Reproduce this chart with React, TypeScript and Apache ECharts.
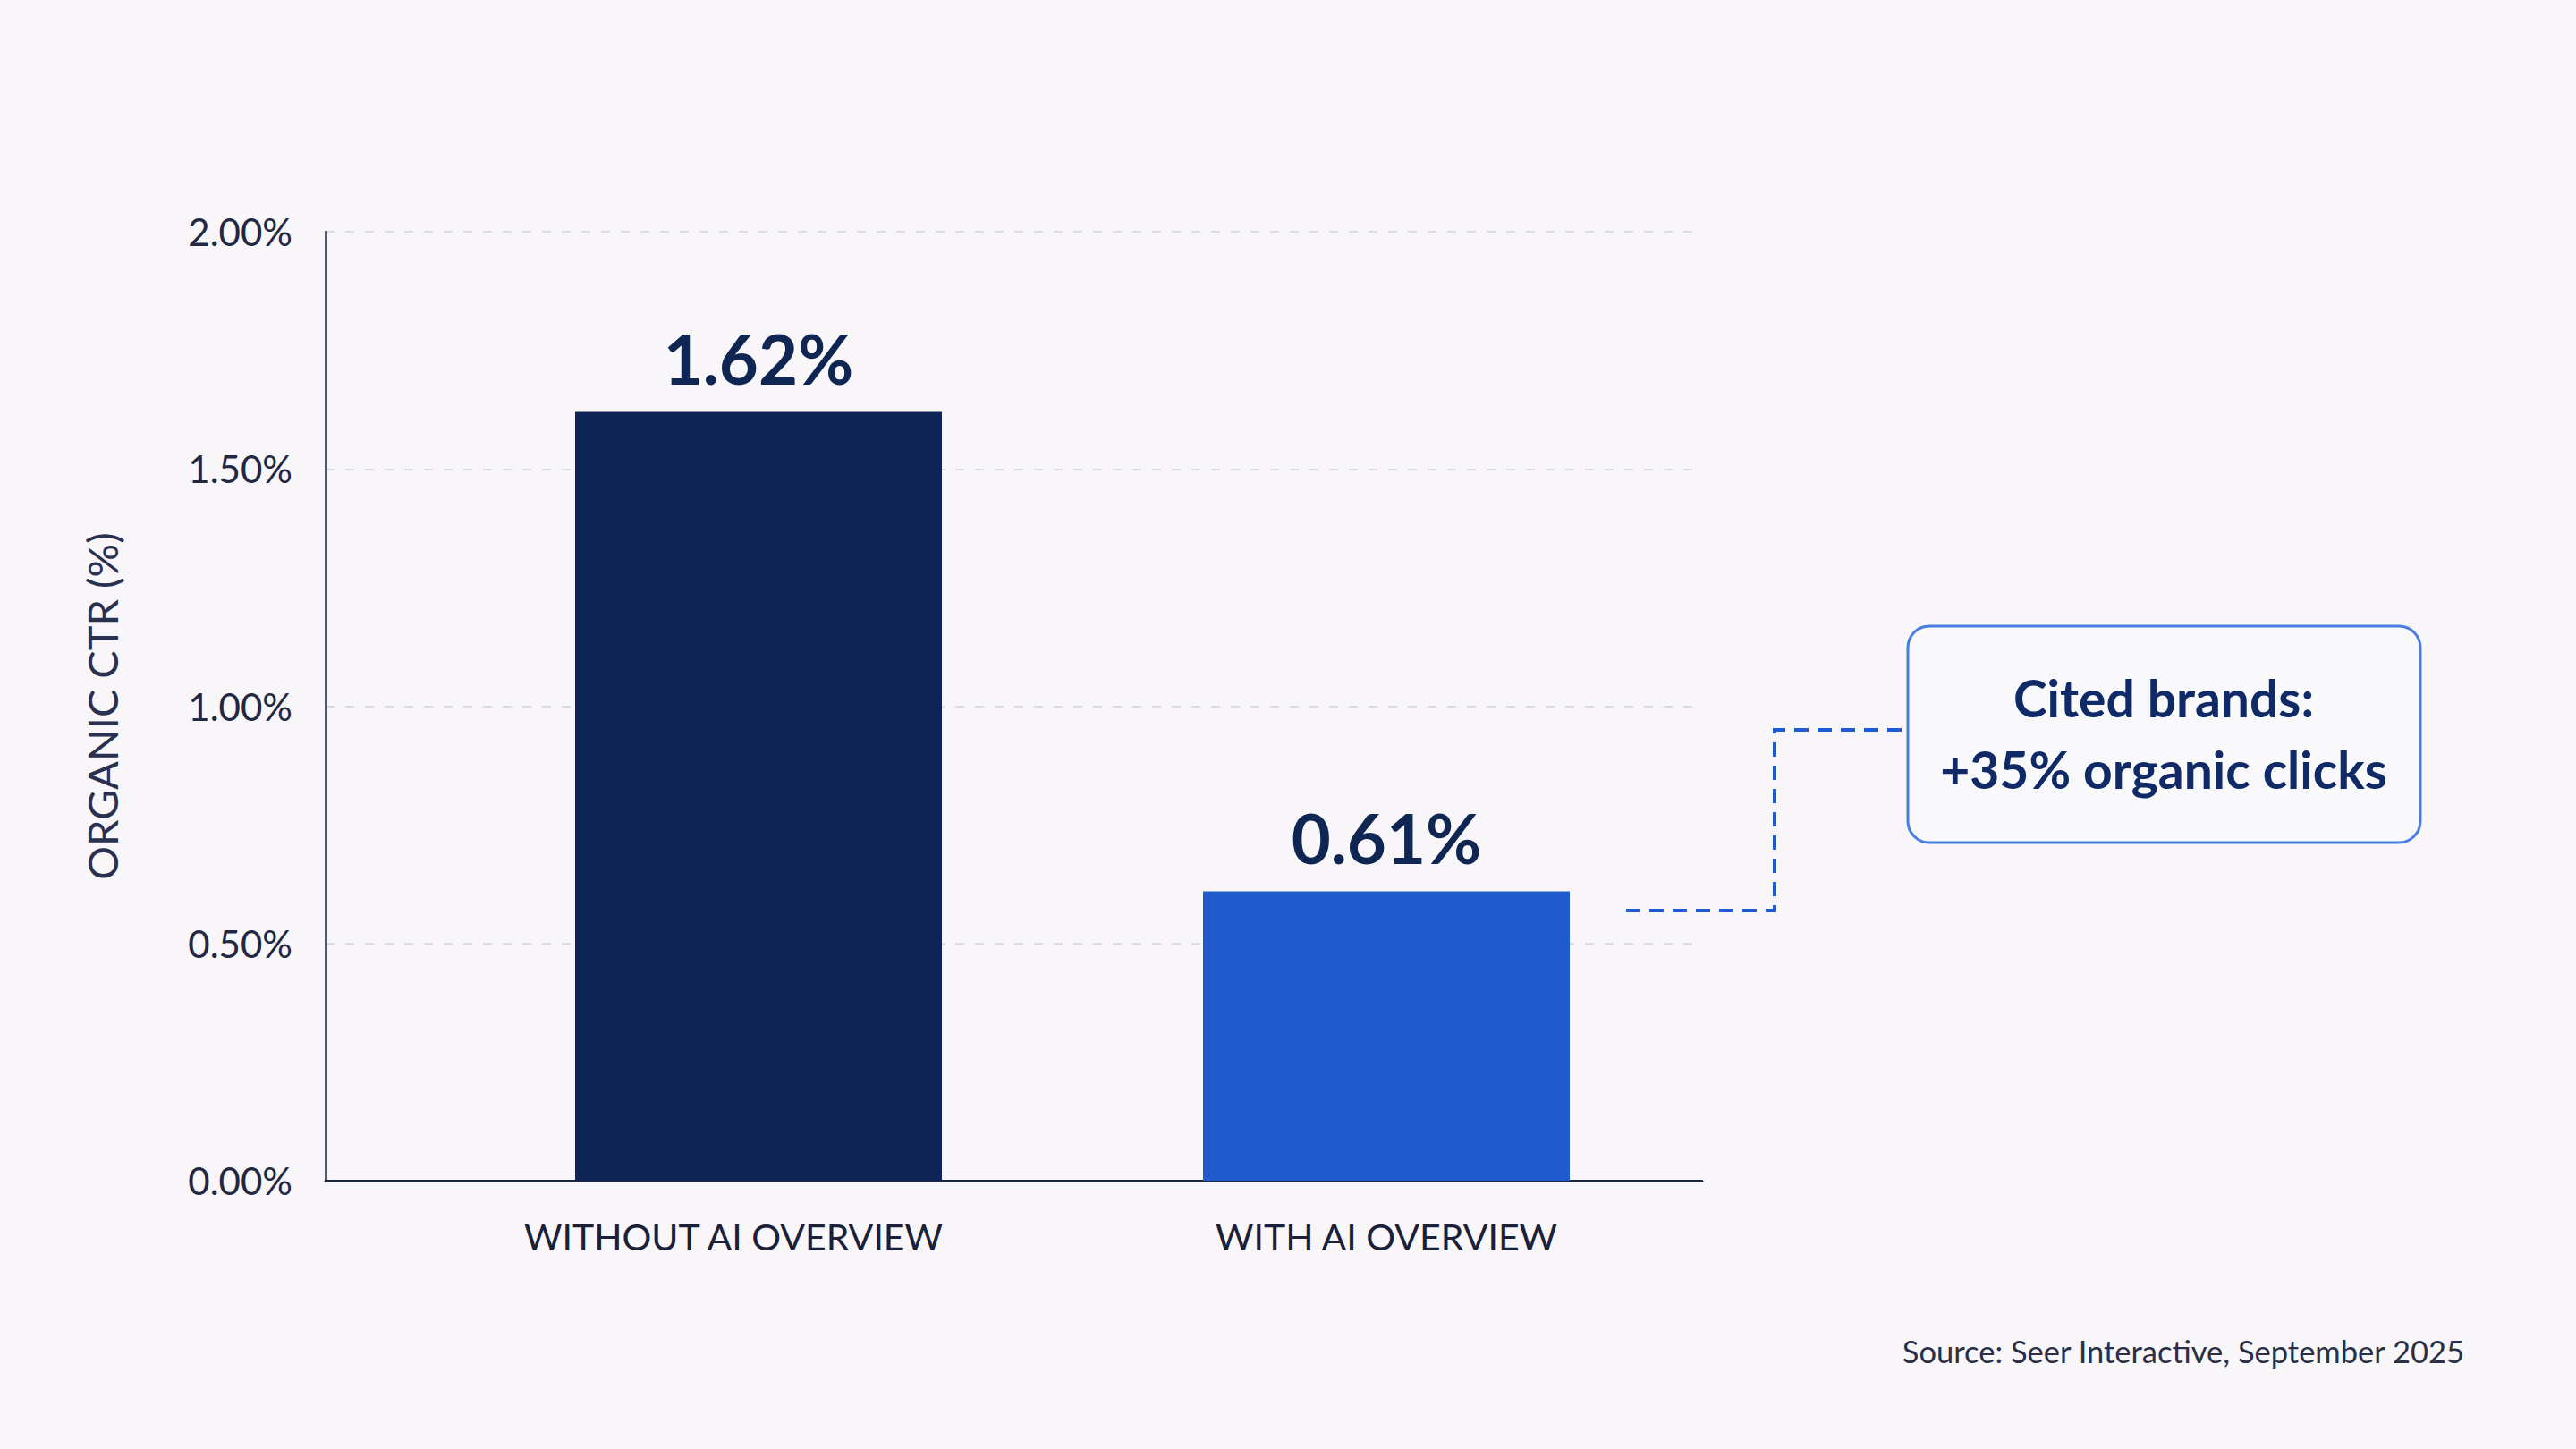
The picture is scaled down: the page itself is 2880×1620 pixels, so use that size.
import React, { useEffect, useRef } from 'react';
import * as echarts from 'echarts';

const categories = ['WITHOUT AI OVERVIEW', 'WITH AI OVERVIEW'];
const ctrValues = [1.62, 0.61];
const barColors = ['#0E2457', '#1F5BCC'];
const yTicks = [0, 0.5, 1, 1.5, 2];
const calloutLines = ['Cited brands:', '+35% organic clicks'];
const sourceNote = 'Source: Seer Interactive, September 2025';

const FONT = 'Lato, "Noto Sans", sans-serif';
const BG = '#F8F6F9';

export default function App() {
  const chartRef = useRef<HTMLDivElement>(null);

  useEffect(() => {
    document.body.style.margin = '0';
    document.body.style.background = BG;
    if (!chartRef.current) return;
    const chart = echarts.init(chartRef.current, null, { renderer: 'svg' });

    const yMin = yTicks[0];
    const yMax = yTicks[yTicks.length - 1];
    const step = yTicks[1] - yTicks[0];

    const option = {
      animation: false,
      backgroundColor: BG,
      textStyle: { fontFamily: FONT },
      grid: [
        // frame grid: axis lines and dashed grid lines
        { left: 364, top: 259, width: 1539, height: 1061 },
        // bar grid, narrower so the bars sit where they do in the picture
        { left: 497, top: 259, width: 1404, height: 1061 }
      ],
      xAxis: [
        {
          type: 'value',
          gridIndex: 0,
          min: 0,
          max: 1,
          axisLine: { show: true, lineStyle: { color: '#1A2340', width: 3 } },
          axisTick: { show: false },
          axisLabel: { show: false },
          splitLine: { show: false }
        },
        {
          type: 'category',
          gridIndex: 1,
          data: categories,
          axisLine: { show: false },
          axisTick: { show: false },
          axisLabel: {
            interval: 0,
            hideOverlap: false,
            color: '#1A2038',
            fontSize: 41,
            fontFamily: FONT,
            margin: 42,
            // first label sits a little left of its bar in the original
            formatter: (v: string, i: number) => (i === 0 ? `{shift|${v}}` : v),
            rich: {
              shift: {
                color: '#1A2038',
                fontSize: 41,
                fontFamily: FONT,
                padding: [0, 56, 0, 0]
              }
            }
          }
        }
      ],
      yAxis: [
        {
          type: 'value',
          gridIndex: 0,
          min: yMin,
          max: yMax,
          interval: step,
          name: 'ORGANIC CTR (%)',
          nameLocation: 'middle',
          nameGap: 227,
          nameTextStyle: { color: '#2A3050', fontSize: 47, fontFamily: FONT },
          axisLine: { show: true, lineStyle: { color: '#1A2340', width: 2.5 } },
          axisTick: { show: false },
          axisLabel: {
            color: '#222842',
            fontSize: 42,
            fontFamily: FONT,
            margin: 37,
            formatter: (v: number) => v.toFixed(2) + '%'
          },
          splitLine: {
            show: true,
            lineStyle: { color: '#DCDBE2', width: 2, type: [10, 12] }
          }
        },
        {
          type: 'value',
          gridIndex: 1,
          min: yMin,
          max: yMax,
          interval: step,
          show: false,
          splitLine: { show: false }
        }
      ],
      series: [
        {
          type: 'bar',
          xAxisIndex: 1,
          yAxisIndex: 1,
          barWidth: 410,
          data: ctrValues.map((v, i) => ({ value: v, itemStyle: { color: barColors[i] } })),
          label: {
            show: true,
            position: 'top',
            distance: 22,
            color: '#0F2552',
            fontSize: 76,
            fontWeight: 'bold',
            fontFamily: FONT,
            formatter: (p: any) => p.value.toFixed(2) + '%'
          }
        }
      ],
      graphic: [
        {
          type: 'polyline',
          shape: { points: [[1818, 1018], [1984, 1018], [1984, 816], [2133, 816]] },
          style: { fill: 'none', stroke: '#1F5BD6', lineWidth: 4, lineDash: [16, 10] }
        },
        {
          type: 'rect',
          shape: { x: 2133, y: 700, width: 573, height: 242, r: 24 },
          style: { fill: '#F9F8FB', stroke: '#4A7DE0', lineWidth: 3 }
        },
        {
          type: 'text',
          x: 2419,
          y: 820,
          style: {
            text: calloutLines.join('\n'),
            align: 'center',
            verticalAlign: 'middle',
            lineHeight: 80,
            fill: '#0F2A66',
            fontSize: 57,
            fontWeight: 'bold',
            fontFamily: FONT
          }
        },
        {
          type: 'text',
          x: 2755,
          y: 1510,
          style: {
            text: sourceNote,
            align: 'right',
            verticalAlign: 'middle',
            fill: '#2A2F45',
            fontSize: 34.5,
            fontFamily: FONT
          }
        }
      ]
    };

    chart.setOption(option);

    const handleResize = () => chart.resize();
    window.addEventListener('resize', handleResize);
    return () => {
      window.removeEventListener('resize', handleResize);
      chart.dispose();
    };
  }, []);

  return <div ref={chartRef} style={{ width: 2880, height: 1620 }} />;
}
